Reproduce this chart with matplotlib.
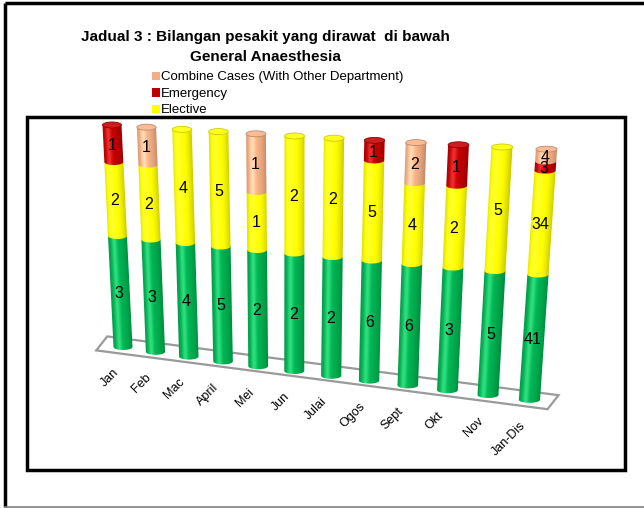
import numpy as np
import matplotlib
matplotlib.use("Agg")
import matplotlib.pyplot as plt
from matplotlib.patches import Rectangle, Ellipse, PathPatch, Polygon
from matplotlib.path import Path
from matplotlib.colors import to_rgb

plt.rcParams['font.family'] = ['Liberation Sans', 'DejaVu Sans']

# ---------------- data ----------------
months = ['Jan', 'Feb', 'Mac', 'April', 'Mei', 'Jun', 'Julai', 'Ogos', 'Sept', 'Okt', 'Nov', 'Jan-Dis']
green_series = [3, 3, 4, 5, 2, 2, 2, 6, 6, 3, 5, 41]
elective = [2, 2, 4, 5, 1, 2, 2, 5, 4, 2, 5, 34]
emergency = [1, 0, 0, 0, 0, 0, 0, 1, 0, 1, 0, 3]
combine = [0, 1, 0, 0, 1, 0, 0, 0, 2, 0, 0, 4]

series_names = ['Combine Cases (With Other Department)', 'Emergency', 'Elective']
title_lines = ['Jadual 3 : Bilangan pesakit yang dirawat  di bawah', 'General Anaesthesia']

colors = {'green': '#00B050', 'elective': '#FFFF00', 'emergency': '#C00000', 'combine': '#F2AE84'}

# ---------------- figure ----------------
fig = plt.figure(figsize=(6.44, 5.10), dpi=100)
ax = fig.add_axes([0, 0, 1, 1])
W, H = 644, 510
ax.set_xlim(0, W)
ax.set_ylim(H, 0)
ax.axis('off')

# outer frame
ax.plot([5, 5], [4, 508], color='black', lw=2.5, solid_capstyle='butt')
ax.plot([5, W], [4, 4], color='black', lw=2.5, solid_capstyle='butt')
ax.plot([5, W], [508, 508], color='#808080', lw=1.2)
# inner plot-area box
ax.add_patch(Rectangle((27, 118), 598, 353, fill=False, ec='black', lw=2.5))

# title
ax.text(265, 37, title_lines[0], ha='center', va='center', fontsize=11, fontweight='bold')
ax.text(265, 57, title_lines[1], ha='center', va='center', fontsize=11, fontweight='bold')

# legend
leg_cols = [colors['combine'], colors['emergency'], colors['elective']]
for k, (name, c) in enumerate(zip(series_names, leg_cols)):
    y = 77 + 16.5 * k
    ax.add_patch(Rectangle((152, y - 4.5), 8.5, 8.5, fc=c, ec='none'))
    ax.text(161, y, name, ha='left', va='center', fontsize=9.5)

# ---------------- perspective projection ----------------
def geom(i):
    xb = 123 + 32 * i + 0.45 * i * i
    xt = 112 + 34 * i + 0.5 * i * i
    yb = 348 + 4.8 * i
    yt = 126 + 2.2 * i
    w = 19 + 0.2 * i
    return xb, xt, yb, yt, w

EH = 6.0

def pt(i, f):
    xb, xt, yb, yt, w = geom(i)
    return xb + f * (xt - xb), yb - f * (yb - yt), w

# floor
n = len(months)
def floor_pt(i, side):
    xb, _, yb, _, _ = geom(i)
    return (xb - 3, yb + 7) if side == 'front' else (xb + 8, yb - 7)
floor = [floor_pt(-0.75, 'front'), floor_pt(n - 0.5, 'front'),
         floor_pt(n - 0.5, 'back'), floor_pt(-0.75, 'back')]
ax.add_patch(Polygon(floor, closed=True, fc='white', ec='#9A9A9A', lw=1.6, zorder=1))

def shade(u):
    base = 0.80 + 0.22 * (1 - np.clip(np.abs(u + 0.15) / 1.15, 0, 1) ** 2)
    hl = 0.18 * np.exp(-((u + 0.4) / 0.28) ** 2)
    return base, hl

def segment(i, f0, f1, color, z, top=False):
    xb, xt, yb, yt, w = geom(i)
    x0c, y0, _ = pt(i, f0)
    x1c, y1, _ = pt(i, f1)
    th = np.linspace(np.pi, 2 * np.pi, 30)
    verts = [(x1c - w / 2, y1), (x0c - w / 2, y0)]
    for t in th:
        verts.append((x0c + (w / 2) * np.cos(t), y0 - (EH / 2) * np.sin(t)))
    verts.append((x1c + w / 2, y1))
    verts.append((x1c - w / 2, y1))
    path = Path(verts, closed=True)
    patch = PathPatch(path, fc='none', ec='none', zorder=z)
    ax.add_patch(patch)
    ymin, ymax = y1 - EH, y0 + EH
    xmin = min(x0c, x1c) - w / 2 - 2
    xmax = max(x0c, x1c) + w / 2 + 2
    ys = np.linspace(ymin, ymax, 120)
    xs = np.linspace(xmin, xmax, 80)
    X, Y = np.meshgrid(xs, ys)
    F = (yb - Y) / (yb - yt)
    XC = xb + F * (xt - xb)
    U = (X - XC) / (w / 2)
    base, hl = shade(U)
    rgb = np.array(to_rgb(color))
    img = np.clip(rgb[None, None, :] * base[..., None] + hl[..., None], 0, 1)
    im = ax.imshow(img, extent=(xmin, xmax, ymax, ymin), origin='upper',
                   interpolation='bilinear', zorder=z, aspect='auto')
    im.set_clip_path(patch)
    if top:
        rgb_l = np.clip(rgb * 0.9 + 0.12, 0, 1)
        ax.add_patch(Ellipse((x1c, y1), w, EH, fc=rgb_l, ec=np.clip(rgb * 0.8, 0, 1),
                             lw=0.6, zorder=z + 0.5))

stack = [(green_series, colors['green']), (elective, colors['elective']),
         (emergency, colors['emergency']), (combine, colors['combine'])]

for i in range(n):
    total = sum(s[i] for s, _ in stack)
    cum = 0.0
    nonzero = [k for k, (s, _) in enumerate(stack) if s[i] > 0]
    for k, (s, c) in enumerate(stack):
        v = s[i]
        if v <= 0:
            continue
        f0 = cum / total
        f1 = (cum + v) / total
        segment(i, f0, f1, c, z=2 + i * 0.1 + k * 0.01, top=(k == nonzero[-1]))
        xm, ym, _ = pt(i, (f0 + f1) / 2)
        ax.text(xm - 1, ym + 1, str(v), ha='center', va='center', fontsize=11.5, zorder=5)
        cum += v
    # category label
    xb, _, yb, _, _ = geom(i)
    ax.text(xb - 6, yb + 23, months[i], rotation=45, rotation_mode='anchor',
            ha='right', va='center', fontsize=9, zorder=5)

ax.set_xlim(0, W)
ax.set_ylim(H, 0)
fig.savefig('out.png', dpi=100)
